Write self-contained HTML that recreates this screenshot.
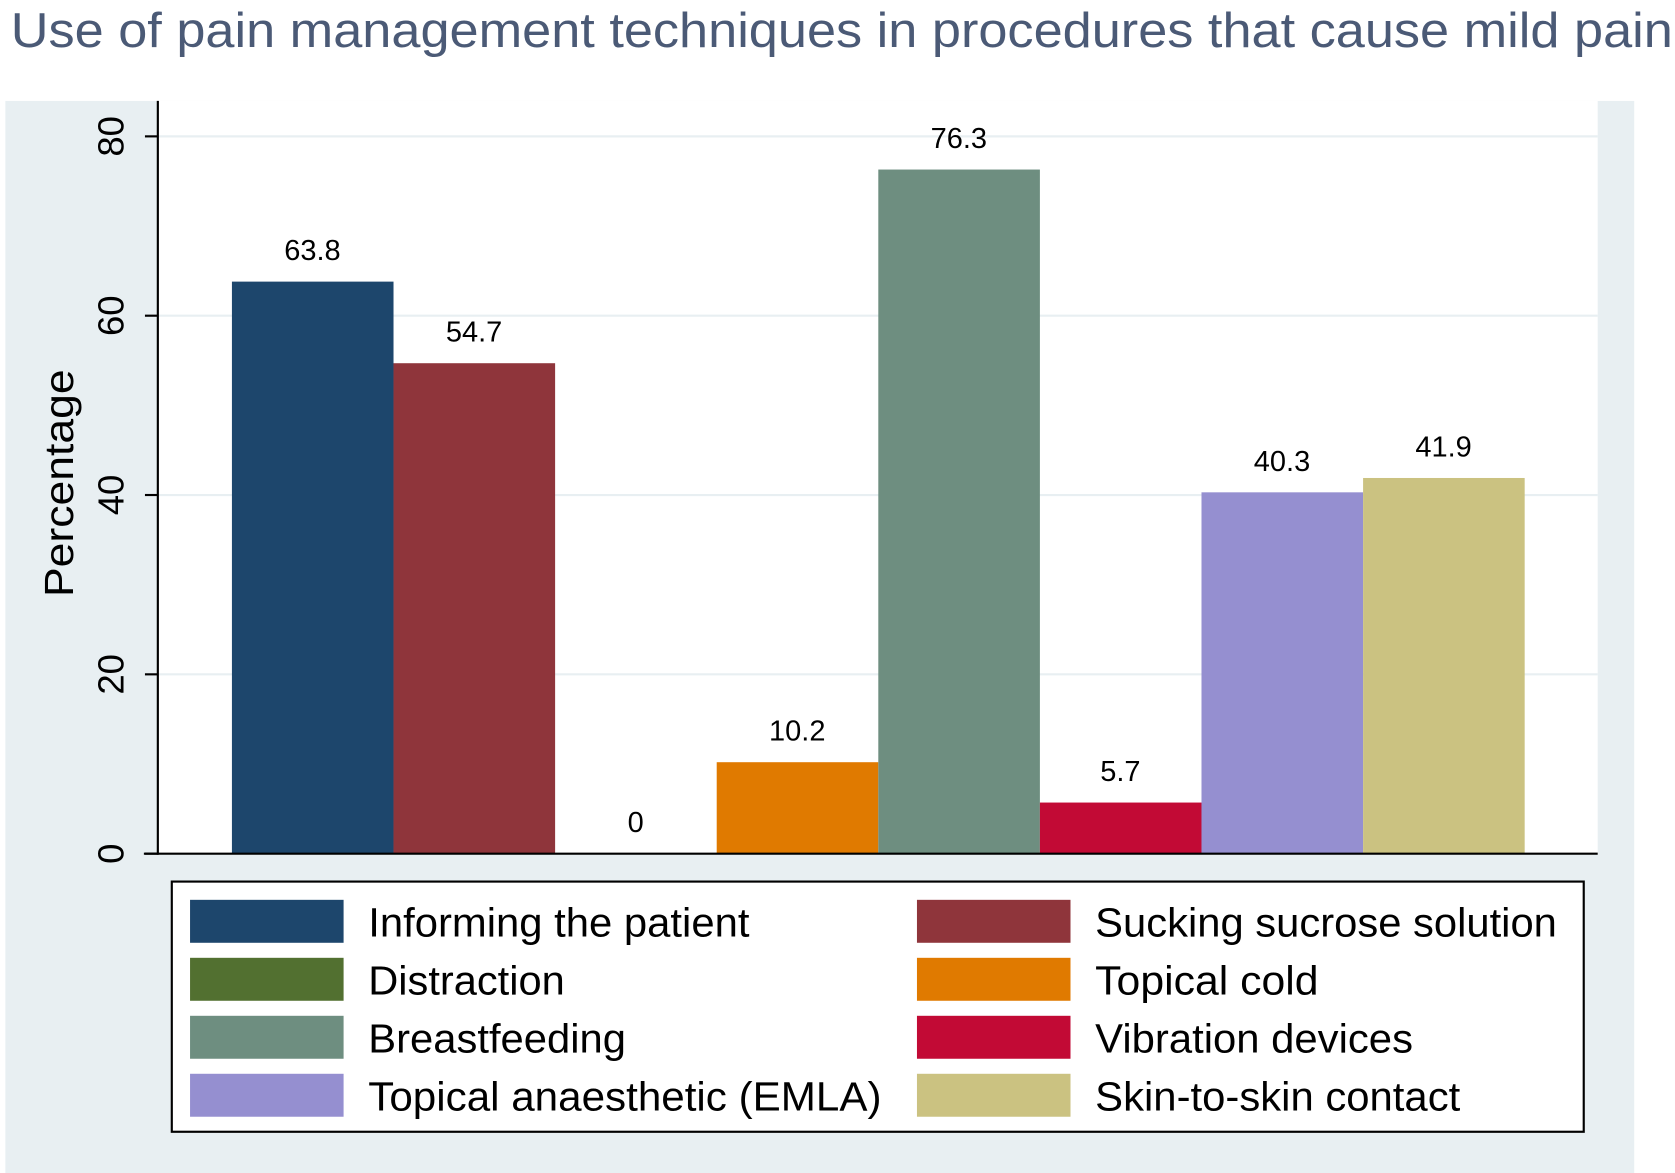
<!DOCTYPE html>
<html><head><meta charset="utf-8"><style>
html,body{margin:0;padding:0;background:#fff;}
svg{display:block;font-family:"Liberation Sans",Arial,sans-serif;}
</style></head><body>
<svg id="chart" width="1675" height="1173" viewBox="0 0 1560 1092.4" preserveAspectRatio="none" xmlns="http://www.w3.org/2000/svg">
<text x="10" y="44" font-size="46" fill="#4b5a76" textLength="1548" lengthAdjust="spacingAndGlyphs">Use of pain management techniques in procedures that cause mild pain</text>
<rect x="5" y="94" width="1517" height="999" fill="#e8eff2"/>
<rect x="147" y="94" width="1341" height="701" fill="#fff"/>
<g id="grid"></g>
<g id="bars"></g>
<g id="axis"></g>
<text transform="translate(68,450) rotate(-90)" text-anchor="middle" font-size="38" fill="#000" textLength="212" lengthAdjust="spacingAndGlyphs">Percentage</text>
<rect x="160" y="821" width="1315" height="233" fill="#fff" stroke="#000" stroke-width="2"/>
<g id="legend"></g>
</svg>
<script>
const categories=["Informing the patient","Sucking sucrose solution","Distraction","Topical cold","Breastfeeding","Vibration devices","Topical anaesthetic (EMLA)","Skin-to-skin contact"];
const values=[63.8,54.7,0,10.2,76.3,5.7,40.3,41.9];
const valueLabels=["63.8","54.7","0","10.2","76.3","5.7","40.3","41.9"];
const colors=["#1d466c","#8f353b","#527030","#e07a00","#6e8e80","#c20a35","#958fd0","#cbc281"];
const yTicks=[0,20,40,60,80];
const NS="http://www.w3.org/2000/svg";
function y(v){return 795-(v/80)*668;}
function x(i){return 216+i*150.5;}
function mk(tag,attrs,parent){const e=document.createElementNS(NS,tag);for(const k in attrs)e.setAttribute(k,attrs[k]);parent.appendChild(e);return e;}
const grid=document.getElementById('grid'),bars=document.getElementById('bars'),axis=document.getElementById('axis'),legend=document.getElementById('legend');
yTicks.forEach(t=>{
  if(t>0){const g=mk('line',{x1:147,x2:1488,y1:y(t),y2:y(t),stroke:'#e8eff2','stroke-width':2},grid);
  
  }
  const tk=mk('line',{x1:135,x2:147,y1:y(t),y2:y(t),stroke:'#000','stroke-width':2},axis);
  
  
  const tl=mk('text',{transform:`translate(115,${y(t)}) rotate(-90)`,'text-anchor':'middle','font-size':34,fill:'#000'},axis);
  tl.textContent=t;
  
  
});
const yl=mk('line',{x1:147,x2:147,y1:94,y2:796,stroke:'#000','stroke-width':2},axis);


const xl=mk('line',{x1:134,x2:1488,y1:795,y2:795,stroke:'#000','stroke-width':2},axis);


values.forEach((v,i)=>{
  const r=mk('rect',{x:x(i),y:y(v),width:150.5,height:795-y(v),fill:colors[i]},bars);
  
  
  const t=mk('text',{x:x(i)+75,y:y(v)-20,'text-anchor':'middle','font-size':27,fill:'#000'},bars);
  t.textContent=valueLabels[i];
  
  
});
const legendWidths=[355,430,183,208,240,296,478,340];
categories.forEach((c,i)=>{
  const col=i%2,row=Math.floor(i/2);
  const sx=col?854:177,ty=858+row*54;
  const s=mk('rect',{x:sx,y:ty-20,width:143,height:40,fill:colors[i]},legend);
  
  
  const t=mk('text',{x:sx+166,y:ty+14,'font-size':38,fill:'#000',textLength:legendWidths[i],lengthAdjust:'spacingAndGlyphs'},legend);
  t.textContent=c;
  
  
});
</script>
</body></html>
